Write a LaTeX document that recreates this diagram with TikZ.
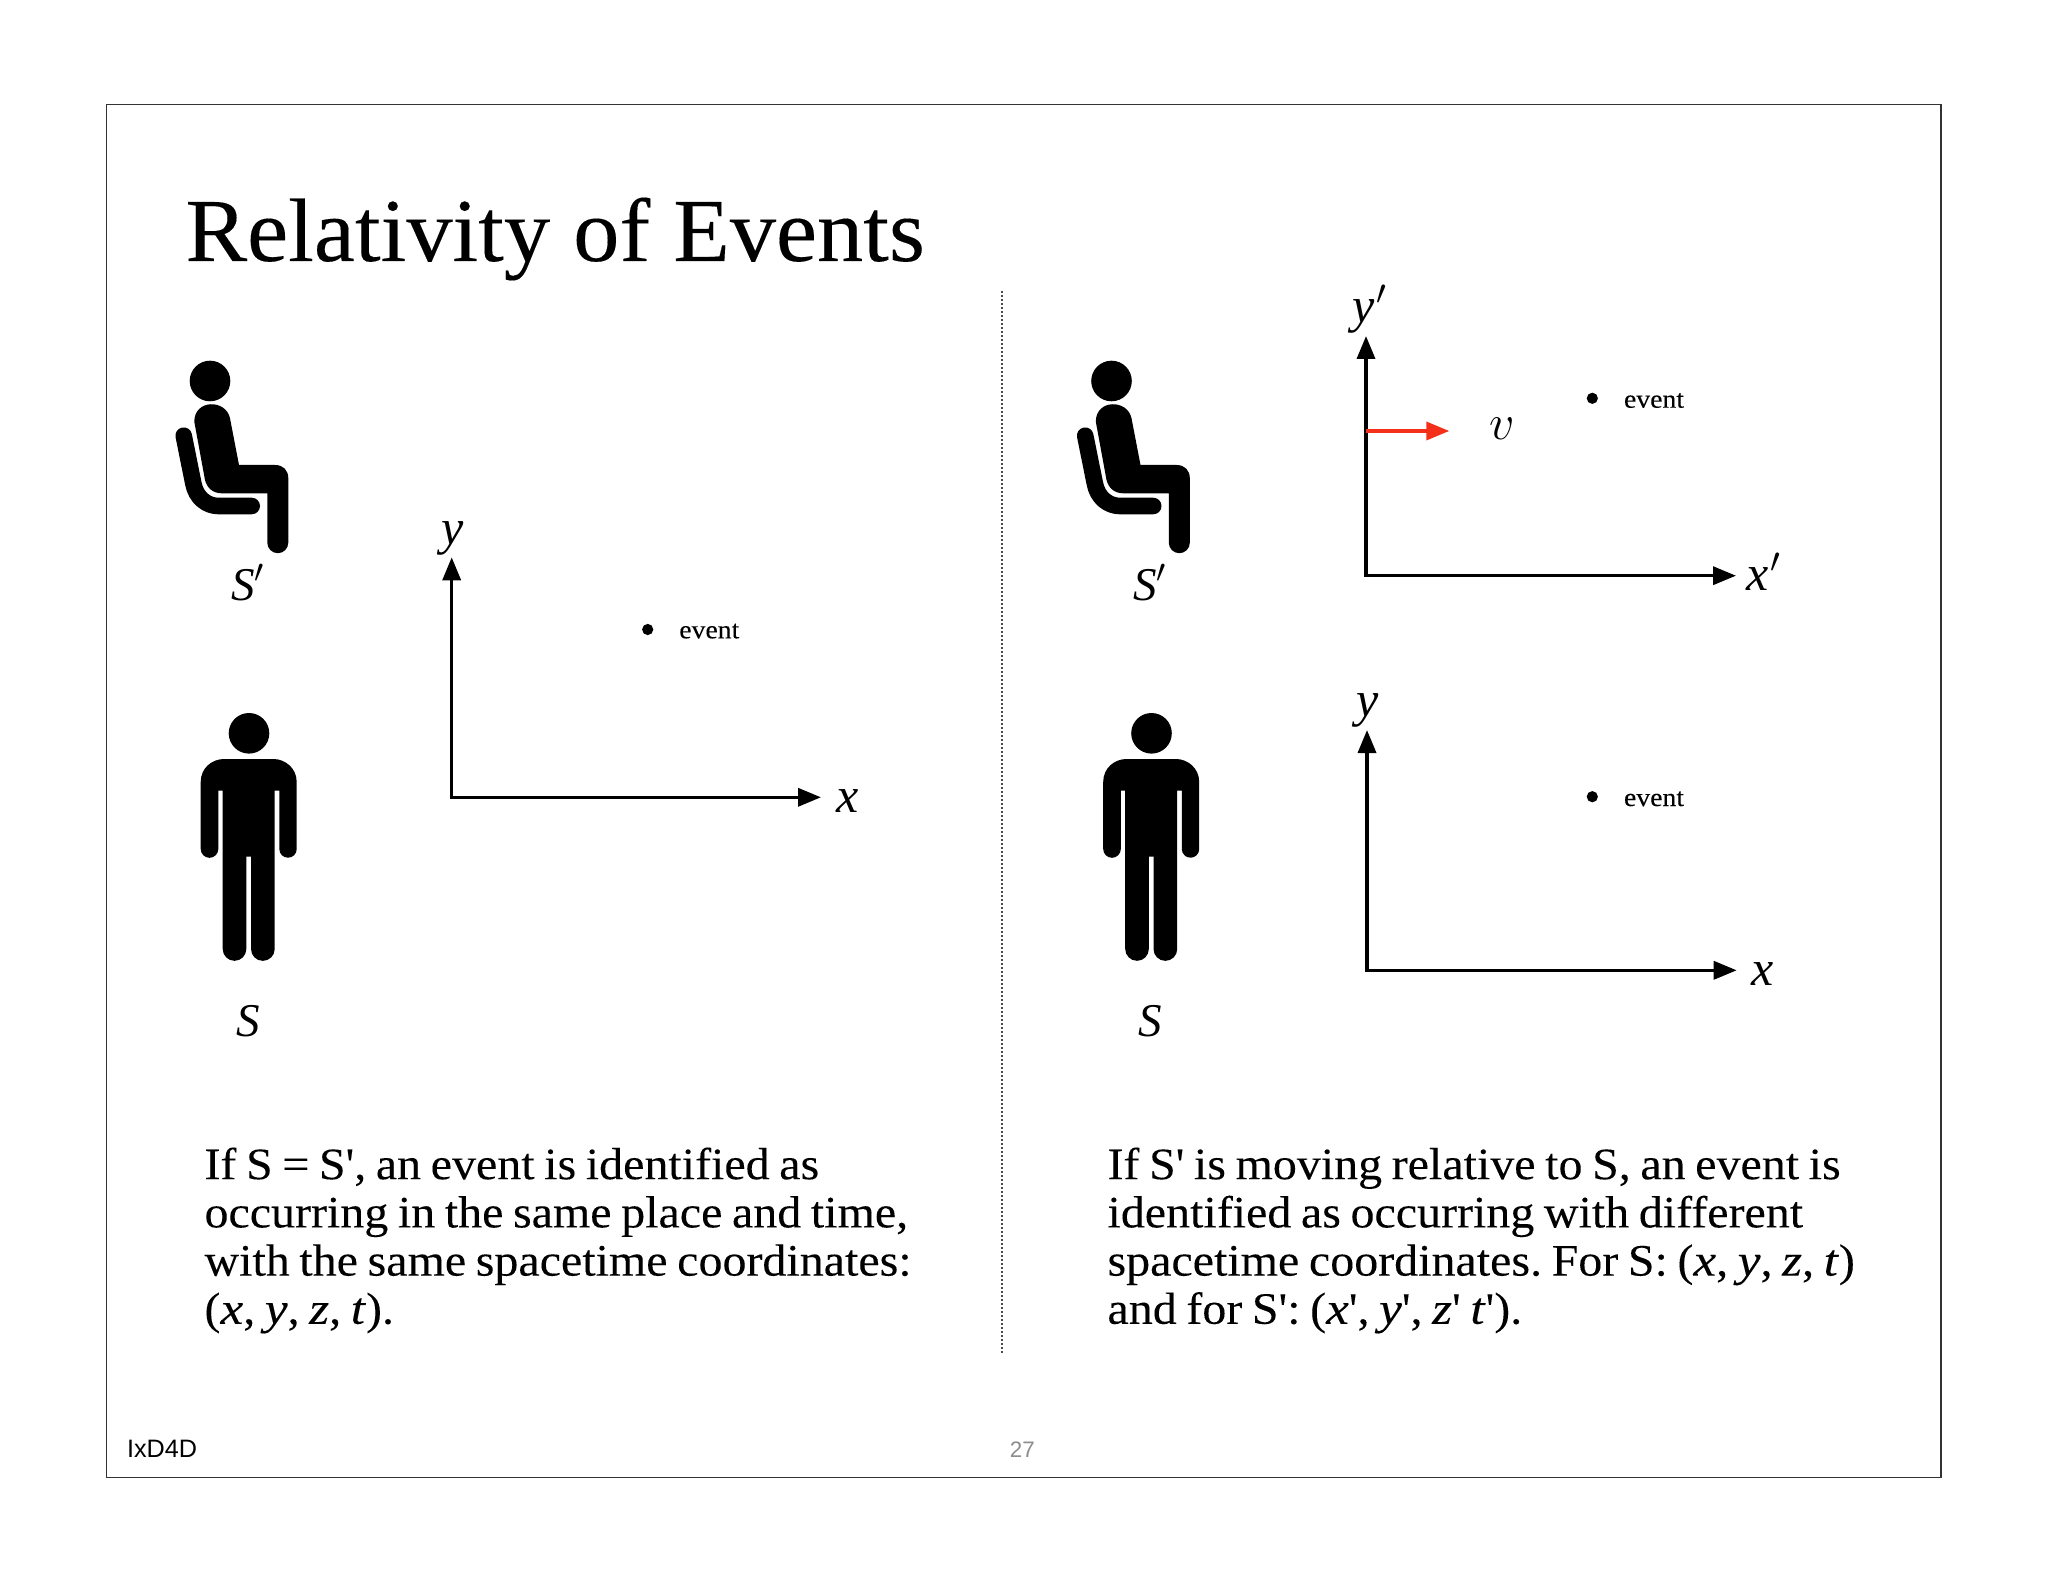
\documentclass[tikz,border=0pt]{standalone}
\usepackage{fix-cm}
\usepackage{fontspec}
\usepackage{tikz}
\usetikzlibrary{positioning,arrows.meta}
\setmainfont{Liberation Serif}
\newfontfamily\titlefont[FakeStretch=1.027,FakeBold=0.15]{Liberation Serif}
\newfontfamily\bodyfont[FakeStretch=1.066,WordSpace=0.8,FakeBold=0.1,ItalicFeatures={FakeStretch=1.14}]{Liberation Serif}
\newfontfamily\footfont{Liberation Sans}
\definecolor{velred}{HTML}{F5301A}
\tikzset{
    every node/.style={inner sep=0pt,outer sep=0pt},
    axis/.style={line width=1.75pt,{Triangle[length=11.5pt,width=9pt]}-{Triangle[length=11.5pt,width=9pt]}},
    velarrow/.style={draw=velred,line width=1.75pt,-{Triangle[length=11.5pt,width=9pt]}},
    eventdot/.style={circle,fill=black,minimum size=5.6pt},
    eventlabel/.style={anchor=base west,font=\fontsize{13}{14}\bodyfont},
    varlabel/.style={font=\fontsize{25}{25}\selectfont\itshape},
    obslabel/.style={font=\fontsize{23.5}{24}\selectfont\itshape},
    bodytext/.style={anchor=north west,align=left,font=\fontsize{22.5}{24.1}\bodyfont\frenchspacing},
    seated/.pic={
        \fill (210,381) circle (20.3);
        \fill (194.3,421.7) .. controls (194.3,399) and (226,399) .. (230,418.3)
            -- (239,465) -- (275,465) .. controls (283,465) and (288.3,470) .. (288.3,478.3)
            -- (288.3,542.7) arc[start angle=0,end angle=180,radius=10.5]
            -- (267.3,493.3) -- (221.7,493.3) .. controls (213,493.3) and (207,488) .. (205,480) -- cycle;
        \draw[line width=8.3pt,line cap=round,line join=round] (183.7,435.7) -- (193.3,483.3)
            .. controls (196,498) and (207,506) .. (218.3,506) -- (251.7,506);
    },
    standing/.pic={
        \fill (249,733.3) circle (20.3);
        \fill (200.7,782) .. controls (200.7,768) and (212,759) .. (224,759)
            -- (273.4,759) .. controls (285,759) and (296.7,768) .. (296.7,782)
            -- (296.7,849) arc[start angle=0,end angle=180,radius=8.7]
            -- (279.3,790.7) -- (274.7,790.7) -- (274.7,949) arc[start angle=0,end angle=180,radius=11.85]
            -- (251,856.7) -- (246.3,856.7) -- (246.3,949) arc[start angle=0,end angle=180,radius=11.8]
            -- (222.7,790.7) -- (218.3,790.7) -- (218.3,849) arc[start angle=0,end angle=180,radius=8.8]
            -- cycle;
    }
}
\begin{document}
\begin{tikzpicture}[x=0.5pt,y=-0.5pt]
    \useasboundingbox (0,0) rectangle (2048,1582);
    \draw[line width=0.8pt,draw=black!80] (106.5,104.5) rectangle (1941,1477.5);
    \node[anchor=base west,font=\fontsize{45}{45}\titlefont] (title) at (185.5,261) {Relativity of Events};

    % divider
    \coordinate (divtop) at (1002,291);
    \coordinate (divbot) at (1002,1353);
    \draw[line width=0.6pt,black!70,dash pattern=on 1pt off 1pt] (divtop) -- (divbot);

    % observers
    \pic at (0,0) {seated};
    \pic at (901.5,0) {seated};
    \pic at (0,0) {standing};
    \pic at (902.5,0) {standing};
    \node[obslabel,anchor=base] (Sp1) at (248,600) {S$'$};
    \node[obslabel,anchor=base] (S1) at (248,1036) {S};
    \node[obslabel,anchor=base] (Sp2) at (1150,600) {S$'$};
    \node[obslabel,anchor=base] (S2) at (1150,1036) {S};

    % left axes
    \coordinate (O1) at (451.7,797.3);
    \coordinate (Y1) at (451.7,557.3);
    \coordinate (X1) at (821,797.3);
    \draw[axis] (Y1) -- (O1) -- (X1);
    \node[varlabel] (y1) at (452.7,538) {y};
    \node[varlabel] (x1) at (847.7,801) {x};
    \node[eventdot] (E1) at (647.7,629.5) {};
    \node[eventlabel] (e1) at (679.3,638.3) {event};

    % right axes, moving
    \coordinate (O2) at (1366,575.7);
    \coordinate (Y2) at (1366,336);
    \coordinate (X2) at (1736,575.7);
    \draw[axis] (Y2) -- (O2) -- (X2);
    \node[varlabel] (y2) at (1370,309) {y\kern1pt$'$};
    \node[varlabel] (x2) at (1764,572) {x\kern1pt$'$};
    \node[eventdot] (E2) at (1592.3,398.3) {};
    \node[eventlabel] (e2) at (1624,407.7) {event};
    \coordinate (V0) at (1366,431);
    \coordinate (V1) at (1449.3,431);
    \draw[velarrow] (V0) -- (V1);
    \node[font=\fontsize{25}{25}\selectfont] (v) at (1502.7,428.5) {$v$};

    % right axes, at rest
    \coordinate (O3) at (1367,970.3);
    \coordinate (Y3) at (1367,730);
    \coordinate (X3) at (1736.7,970.3);
    \draw[axis] (Y3) -- (O3) -- (X3);
    \node[varlabel] (y3) at (1367.7,710) {y};
    \node[varlabel] (x3) at (1762.7,974) {x};
    \node[eventdot] (E3) at (1592.3,796.7) {};
    \node[eventlabel] (e3) at (1624,806) {event};

    % captions
    \node[bodytext] (capL) at (204.5,1147.5) {If S = S', an event is identified as\\
        occurring in the same place and time,\\
        with the same spacetime coordinates:\\
        (\textit{x}, \textit{y}, \textit{z}, \textit{t}).};
    \node[bodytext] (capR) at (1107.5,1147.5) {If S' is moving relative to S, an event is\\
        identified as occurring with different\\
        spacetime coordinates. For S: (\textit{x}, \textit{y}, \textit{z}, \textit{t})\\
        and for S': (\textit{x}', \textit{y}', \textit{z}' \textit{t}').};

    % footer
    \node[anchor=base west,font=\fontsize{12.6}{13}\footfont] (foot) at (127,1457.5) {IxD4D};
    \node[anchor=base,text=black!45,font=\fontsize{11.2}{13}\footfont] (page) at (1022.4,1457.5) {27};
\end{tikzpicture}
\end{document}
